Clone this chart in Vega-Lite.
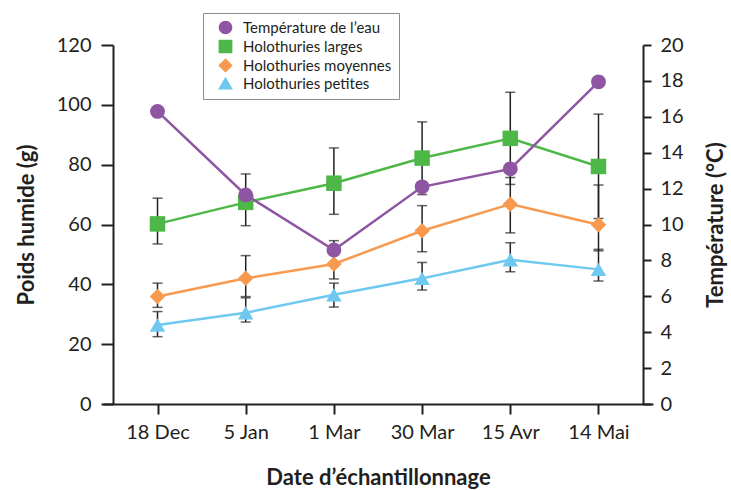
{
  "$schema": "https://vega.github.io/schema/vega-lite/v6.json",
  "width": 550,
  "height": 359,
  "autosize": {"type": "none"},
  "padding": {"left": 103, "top": 45, "right": 78, "bottom": 86},
  "background": "white",
  "config": {
    "view": {"stroke": null},
    "font": "Lato",
    "axis": {
      "grid": false,
      "domainColor": "#231f20",
      "domainWidth": 2,
      "tickColor": "#231f20",
      "tickWidth": 2,
      "tickSize": 10,
      "labelFontSize": 20,
      "labelColor": "#231f20",
      "labelFont": "Lato",
      "titleFont": "Lato",
      "titleFontSize": 22,
      "titleFontWeight": "bold",
      "titleColor": "#231f20"
    }
  },
  "datasets": {
    "weights": [
      {"date": "18 Dec", "series": "Holothuries larges", "mean": 60.2, "lo": 53.5, "hi": 68.8},
      {"date": "5 Jan", "series": "Holothuries larges", "mean": 67.4, "lo": 59.6, "hi": 76.9},
      {"date": "1 Mar", "series": "Holothuries larges", "mean": 73.8, "lo": 63.4, "hi": 85.6},
      {"date": "30 Mar", "series": "Holothuries larges", "mean": 82.2, "lo": 70.0, "hi": 94.3},
      {"date": "15 Avr", "series": "Holothuries larges", "mean": 88.8, "lo": 73.4, "hi": 104.2},
      {"date": "14 Mai", "series": "Holothuries larges", "mean": 79.4, "lo": 62.0, "hi": 96.9},
      {"date": "18 Dec", "series": "Holothuries moyennes", "mean": 35.9, "lo": 32.3, "hi": 40.4},
      {"date": "5 Jan", "series": "Holothuries moyennes", "mean": 42.0, "lo": 35.9, "hi": 49.6},
      {"date": "1 Mar", "series": "Holothuries moyennes", "mean": 46.8, "lo": 41.8, "hi": 54.6},
      {"date": "30 Mar", "series": "Holothuries moyennes", "mean": 57.9, "lo": 50.9, "hi": 66.3},
      {"date": "15 Avr", "series": "Holothuries moyennes", "mean": 66.8, "lo": 57.2, "hi": 75.7},
      {"date": "14 Mai", "series": "Holothuries moyennes", "mean": 59.9, "lo": 51.2, "hi": 73.2},
      {"date": "18 Dec", "series": "Holothuries petites", "mean": 26.4, "lo": 22.5, "hi": 30.9},
      {"date": "5 Jan", "series": "Holothuries petites", "mean": 30.5, "lo": 27.4, "hi": 35.5},
      {"date": "1 Mar", "series": "Holothuries petites", "mean": 36.5, "lo": 32.4, "hi": 40.4},
      {"date": "30 Mar", "series": "Holothuries petites", "mean": 42.0, "lo": 38.1, "hi": 47.3},
      {"date": "15 Avr", "series": "Holothuries petites", "mean": 48.2, "lo": 44.2, "hi": 53.9},
      {"date": "14 Mai", "series": "Holothuries petites", "mean": 45.0, "lo": 41.1, "hi": 51.7}
    ],
    "temp": [
      {"date": "18 Dec", "series": "Température de l’eau", "temp": 16.3},
      {"date": "5 Jan", "series": "Température de l’eau", "temp": 11.65},
      {"date": "1 Mar", "series": "Température de l’eau", "temp": 8.58},
      {"date": "30 Mar", "series": "Température de l’eau", "temp": 12.1},
      {"date": "15 Avr", "series": "Température de l’eau", "temp": 13.1},
      {"date": "14 Mai", "series": "Température de l’eau", "temp": 17.95}
    ]
  },
  "encoding": {
    "x": {
      "field": "date",
      "type": "ordinal",
      "sort": ["18 Dec", "5 Jan", "1 Mar", "30 Mar", "15 Avr", "14 Mai"],
      "scale": {"type": "point", "padding": 0.618},
      "axis": {"title": "Date d’échantillonnage", "labelAngle": 0, "labelPadding": 8, "titlePadding": 25}
    }
  },
  "layer": [
    {
      "data": {"name": "weights"},
      "layer": [
        {
          "mark": {"type": "rule", "color": "#231f20", "strokeWidth": 1.5},
          "encoding": {
            "y": {"field": "lo", "type": "quantitative", "scale": {"domain": [0, 120]},
              "axis": {"title": "Poids humide (g)", "orient": "left", "offset": -10, "tickSize": 12, "values": [0, 20, 40, 60, 80, 100, 120], "labelPadding": 10, "titlePadding": 18}},
            "y2": {"field": "hi"}
          }
        },
        {
          "mark": {"type": "tick", "color": "#231f20", "size": 10, "thickness": 1.5},
          "encoding": {"y": {"field": "lo", "type": "quantitative"}}
        },
        {
          "mark": {"type": "tick", "color": "#231f20", "size": 10, "thickness": 1.5},
          "encoding": {"y": {"field": "hi", "type": "quantitative"}}
        },
        {
          "mark": {"type": "line", "strokeWidth": 2.5},
          "encoding": {
            "y": {"field": "mean", "type": "quantitative"},
            "color": {"field": "series", "type": "nominal"}
          }
        },
        {
          "mark": {"type": "point", "filled": true, "opacity": 1, "size": 240},
          "encoding": {
            "y": {"field": "mean", "type": "quantitative"},
            "color": {"field": "series", "type": "nominal"},
            "shape": {"field": "series", "type": "nominal"}
          }
        }
      ]
    },
    {
      "data": {"name": "temp"},
      "encoding": {
        "y": {"field": "temp", "type": "quantitative", "scale": {"domain": [0, 20]},
          "axis": {"title": "Température (°C)", "orient": "right", "offset": -10, "tickSize": 8, "values": [0, 2, 4, 6, 8, 10, 12, 14, 16, 18, 20], "labelPadding": 9, "titleAngle": 270, "titleBaseline": "top", "titlePadding": 22}}
      },
      "layer": [
        {
          "mark": {"type": "line", "strokeWidth": 2.5},
          "encoding": {"color": {"field": "series", "type": "nominal"}}
        },
        {
          "mark": {"type": "point", "filled": true, "opacity": 1, "size": 220},
          "encoding": {
            "color": {
              "field": "series", "type": "nominal",
              "scale": {
                "domain": ["Température de l’eau", "Holothuries larges", "Holothuries moyennes", "Holothuries petites"],
                "range": ["#8e55a3", "#4db848", "#f79a4f", "#6ec8f0"]
              },
              "legend": {
                "title": null, "orient": "none", "legendX": 100, "legendY": -32,
                "strokeColor": "#8c8c8c", "padding": 7, "labelFontSize": 15, "labelFont": "Lato",
                "labelColor": "#231f20", "symbolSize": 150, "rowPadding": 0, "labelOffset": 10,
                "symbolOffset": 8, "fillColor": "white"
              }
            },
            "shape": {
              "field": "series", "type": "nominal",
              "scale": {
                "domain": ["Température de l’eau", "Holothuries larges", "Holothuries moyennes", "Holothuries petites"],
                "range": ["circle", "square", "diamond", "triangle-up"]
              }
            }
          }
        }
      ]
    }
  ],
  "resolve": {"scale": {"y": "independent"}}
}
